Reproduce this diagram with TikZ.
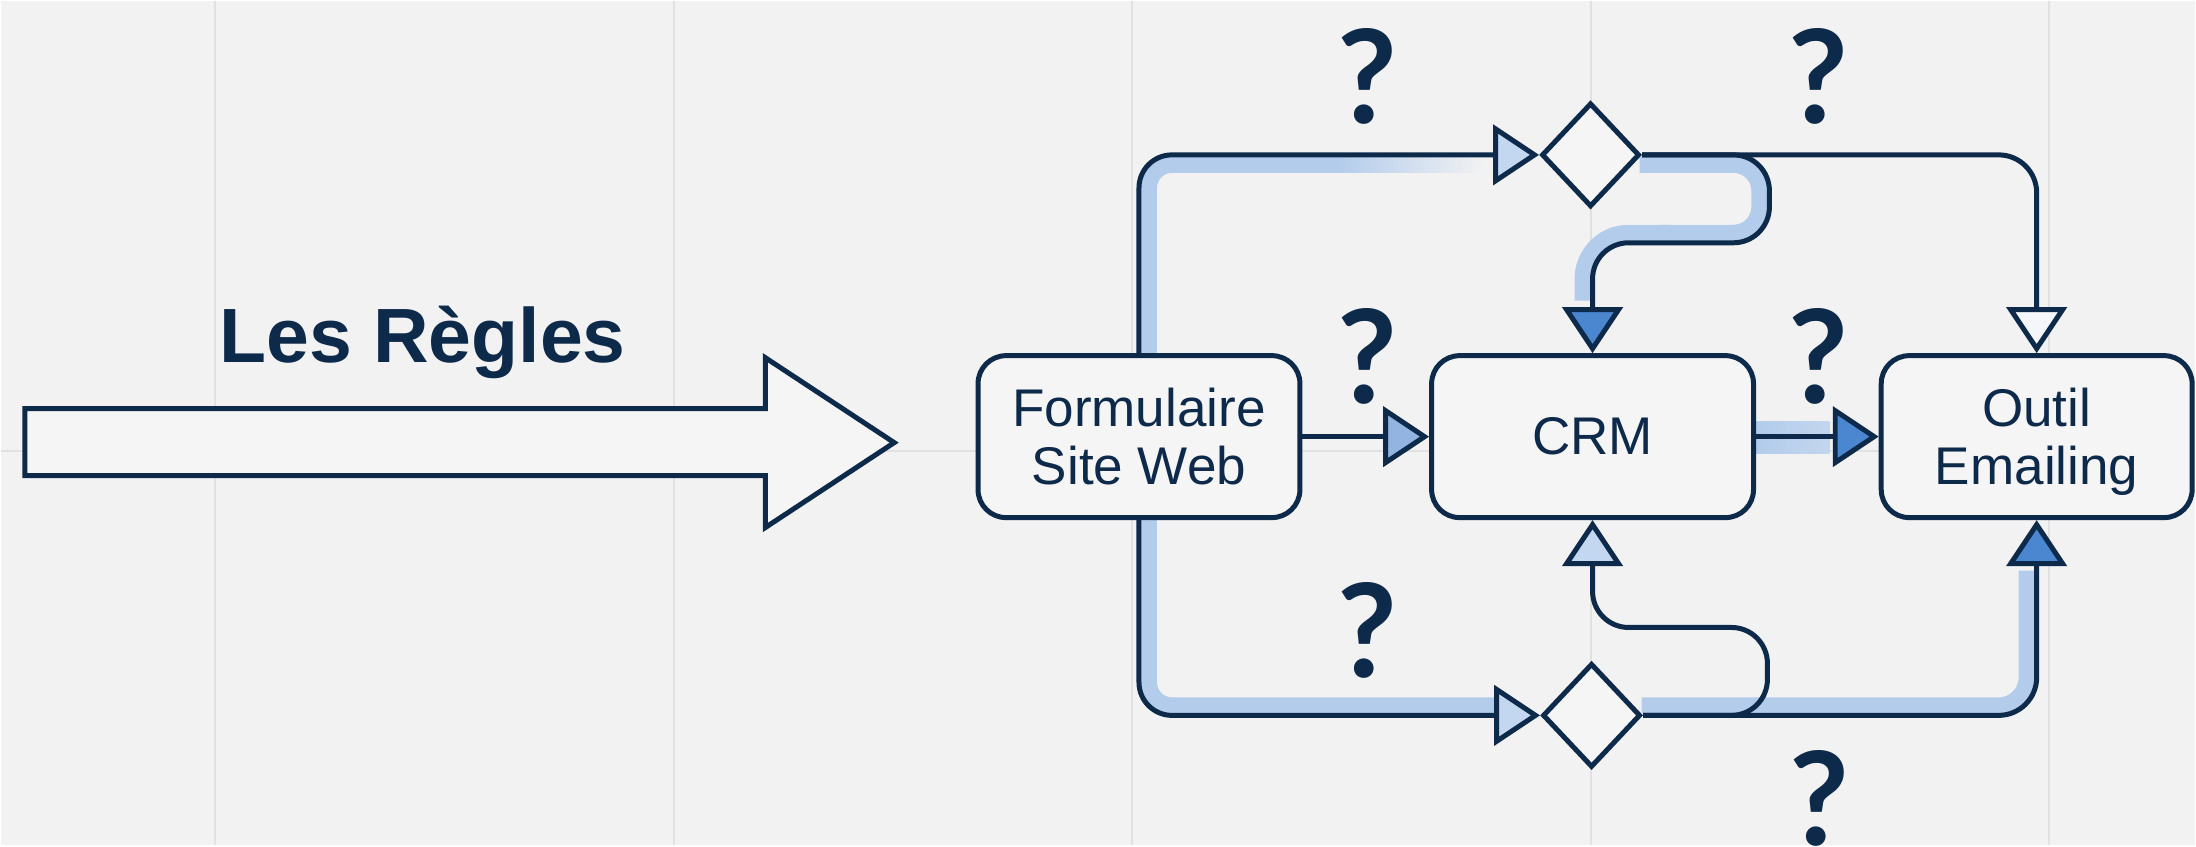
\documentclass[tikz,border=0pt]{standalone}
\usepackage{fontspec}
\setmainfont{Liberation Sans}
\newfontfamily\askfont{Lato}
\usetikzlibrary{arrows.meta,shapes.geometric}

\definecolor{bg}{HTML}{F2F2F2}
\definecolor{gridc}{HTML}{E1E1E1}
\definecolor{navy}{HTML}{0E2A4B}
\definecolor{band}{HTML}{B3CCEC}
\definecolor{paleblue}{HTML}{C4D7F0}
\definecolor{softblue}{HTML}{93B4E0}
\definecolor{midblue}{HTML}{4B86D0}
\definecolor{openfill}{HTML}{F4F6FA}
\definecolor{boxfill}{HTML}{F5F5F5}

\pgfdeclarelayer{back}
\pgfdeclarelayer{mid}
\pgfsetlayers{back,mid,main}

\begin{document}
\begin{tikzpicture}[x=0.01cm, y=-0.01cm,
  box/.style={draw=navy, line width=0.05cm, fill=boxfill, rounded corners=0.28cm,
    minimum height=1.62cm, inner sep=0pt, align=center, text=navy,
    font=\fontsize{15.1}{16.5}\selectfont},
  wire/.style={draw=navy, line width=0.05cm, line join=miter},
  hl/.style={draw=band, line width=0.16cm},
  gate/.style={diamond, draw=navy, line width=0.05cm, fill=boxfill,
    minimum width=0.98cm, minimum height=1.04cm, inner sep=0pt},
  tri/.style={-{Triangle[length=0.46cm, width=0.6cm, fill=#1]}},
  ask/.style={font=\askfont\fontsize{37}{38}\selectfont\bfseries, text=navy,
    inner sep=0pt, anchor=base},
]
% canvas and faint grid
\begin{pgfonlayer}{back}
  \fill[bg] (0,0) rectangle (2196,845);
  \foreach \gx in {214,674,1132,1591,2050}
    \draw[gridc, line width=0.02cm] (\gx,0) -- (\gx,845);
  \draw[gridc, line width=0.02cm] (0,450) -- (2196,450);
\end{pgfonlayer}
\useasboundingbox (0,0) rectangle (2196,845);

% big hollow arrow with its title
\draw[navy, line width=0.05cm, fill=boxfill, line join=miter]
  (24,408) -- (765,408) -- (765,357) -- (894,442) -- (765,527)
  -- (765,475) -- (24,475) -- cycle;
\node[font=\fontsize{21.9}{24}\selectfont\bfseries, text=navy, anchor=base,
  inner sep=0pt] (title) at (422,362) {Les Règles};

% systems
\node[box, minimum width=3.22cm] (form) at (1139,436) {Formulaire\\Site Web};
\node[box, minimum width=3.22cm] (crm) at (1593,436) {CRM};
\node[box, minimum width=3.11cm] (outil) at (2037.5,436) {Outil\\Emailin\smash{g}};

% decision points
\node[gate] (gtop) at (1591,154) {};
\node[gate] (gbot) at (1592,715) {};

% question marks
\node[ask] (q1) at (1368,123) {?};
\node[ask] (q2) at (1819,123) {?};
\node[ask] (q3) at (1368,403) {?};
\node[ask] (q4) at (1819,403) {?};
\node[ask] (q5) at (1368,677) {?};
\node[ask] (q6) at (1820,845) {?};

\begin{pgfonlayer}{mid}
  % highlighted flow bands
  \draw[hl, rounded corners=0.23cm] (1149,355) -- (1149,164) -- (1340,164);
  \shade[left color=band, right color=bg] (1338,156) rectangle (1485,172);
  \draw[hl, rounded corners=0.26cm] (1640,164) -- (1760,164) -- (1760,232)
    -- (1660,232);
  \draw[hl, rounded corners=0.46cm] (1670,232) -- (1583,232) -- (1583,300);
  \shade[left color=band, right color=band!75!bg] (1757,421) rectangle (1830,453);
  \draw[hl, rounded corners=0.23cm] (1149,517) -- (1149,705) -- (1496,705);
  \draw[hl, rounded corners=0.28cm] (1642,705) -- (2027.5,705) -- (2027.5,570);

  % connectors
  \draw[wire, rounded corners=0.33cm, tri=paleblue] (form.north) |- (gtop.west);
  \draw[wire, rounded corners=0.38cm, tri=openfill] (gtop.east) -| (outil.north);
  \draw[wire, rounded corners=0.36cm, tri=midblue] (gtop.east) -- (1770,154)
    -- (1770,242) -- (crm.north |- 0,242) -- (crm.north);
  \draw[wire, tri=softblue] (form.east) -- (crm.west);
  \draw[wire, tri=midblue] (crm.east) -- (outil.west);
  \draw[wire, rounded corners=0.33cm, tri=paleblue] (form.south) |- (gbot.west);
  \draw[wire, rounded corners=0.38cm, tri=midblue] (gbot.east) -| (outil.south);
  \draw[wire, rounded corners=0.36cm, tri=paleblue] (gbot.east) -- (1768,715)
    -- (1768,627) -- (crm.south |- 0,627) -- (crm.south);
\end{pgfonlayer}
\end{tikzpicture}
\end{document}
